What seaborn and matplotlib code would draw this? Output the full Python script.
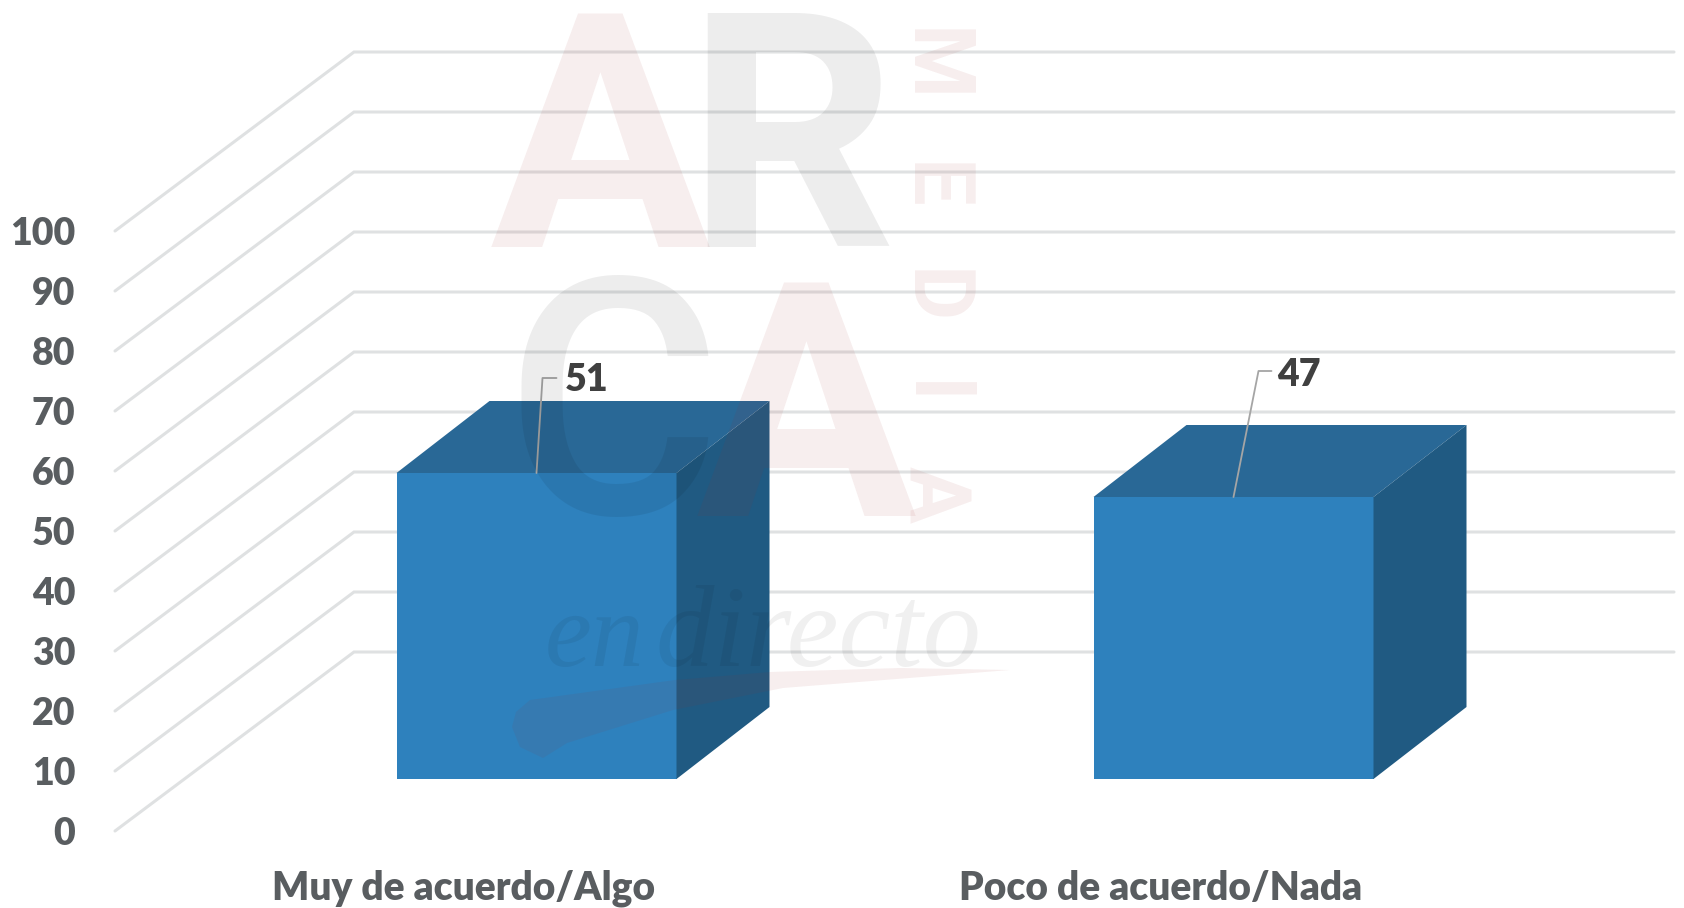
#!/usr/bin/env python3

import pandas as pd
import seaborn as sns
from matplotlib import pyplot as plt
from matplotlib.patches import Polygon

categories = ["Muy de acuerdo/Algo", "Poco de acuerdo/Nada"]
values = [51, 47]
y_ticks = [0, 10, 20, 30, 40, 50, 60, 70, 80, 90, 100]

W, H = 1684, 908
BAR_CENTER = 536.5    # pixel x of the first bar
BAR_STEP = 697        # pixels between the two bars
BASE_Y = 779          # pixel y of value 0 on the bar front
UNIT = 6.0            # pixels per value unit

FRONT = "#2e81bd"
TOP = "#296896"
SIDE = "#205a82"
GRID = "#dfe1e2"
TEXT = "#595d60"
GREY_MARK = dict(color="#000000", alpha=0.07)
PINK_MARK = dict(color="#a02828", alpha=0.08)


def to_x(px):
    return (px - BAR_CENTER) / BAR_STEP


def to_y(py):
    return (BASE_Y - py) / UNIT


def fig_text(fig, px, py, s, **kwargs):
    fig.text(px / W, 1 - py / H, s, ha="center", va="baseline", **kwargs)


def draw_watermark(fig):
    big = dict(family="Roboto", weight="bold", fontsize=236)
    fig_text(fig, 600, 247, "A", **big, **PINK_MARK)
    fig_text(fig, 791, 247, "R", **big, **GREY_MARK)
    fig_text(fig, 612, 514, "C", family="Roboto", weight=500, fontsize=238, **GREY_MARK)
    fig_text(fig, 806, 516, "A", **big, **PINK_MARK)

    # the MEDIA column reads top to bottom
    for letter, py in zip("MEDIA", [28, 162, 269, 381, 466]):
        fig.text(932 / W, 1 - py / H, letter, rotation=-90, ha="left", va="center",
                 rotation_mode="anchor", family="Roboto", weight="bold", fontsize=61, **PINK_MARK)

    script = dict(family="Liberation Serif", style="italic", color="#000000", alpha=0.06)
    fig_text(fig, 595, 666, "en", fontsize=76, **script)
    fig_text(fig, 818, 666, "directo", fontsize=84, **script)

    swoosh = [(512, 727), (516, 712), (530, 700), (675, 680), (770, 672), (900, 668), (1010, 670),
              (783, 688), (673, 710), (567, 743), (543, 758), (520, 747)]
    fig.add_artist(Polygon([(x / W, 1 - y / H) for x, y in swoosh], closed=True, transform=fig.transFigure,
                           facecolor=PINK_MARK["color"], edgecolor="none", alpha=PINK_MARK["alpha"]))


def main():
    sns.set_style("white")
    fig = plt.figure(figsize=(W / 100, H / 100), dpi=100)
    ax = fig.add_axes([88 / W, 1 - 860 / H, (W - 88) / W, 860 / H])

    data = pd.DataFrame({"Respuesta": categories, "Valor": values})
    sns.barplot(data, x="Respuesta", y="Valor", color=FRONT, saturation=1, width=280 / BAR_STEP, ax=ax,
                zorder=3, linewidth=0)

    ax.set_xlim(to_x(88), to_x(W))
    ax.set_ylim(to_y(860), to_y(0))

    # floor/side wall and back wall lines
    wall_front, wall_back, wall_end = to_x(115), to_x(354), to_x(1674)
    front_drop, back_rise = to_y(831), to_y(652)
    for tick in y_ticks:
        ax.plot([wall_front, wall_back, wall_end], [tick + front_drop, tick + back_rise, tick + back_rise],
                color=GRID, lw=2.2, zorder=1, solid_joinstyle="miter")

    # fake 3d faces on each bar
    half = 140 / BAR_STEP
    dx, dy = 93 / BAR_STEP, 72 / UNIT
    for i, value in enumerate(values):
        ax.fill([i - half, i + half, i + half + dx, i - half + dx],
                [value, value, value + dy, value + dy], color=TOP, lw=0, zorder=3)
        ax.fill([i + half, i + half + dx, i + half + dx, i + half],
                [value, value + dy, dy, 0], color=SIDE, lw=0, zorder=3)

    # leader lines and labels
    leaders = [((0, 0), (6, 95), (20, 95)), ((0, 0), (25, 126), (38, 126))]
    label_gap = [31, 46]
    label_rise = [93, 122]
    for i, value in enumerate(values):
        xs = [i + p[0] / BAR_STEP for p in leaders[i]]
        ys = [value + p[1] / UNIT for p in leaders[i]]
        ax.plot(xs, ys, color="#a5a5a5", lw=1.3, zorder=4)
        ax.text(i + (label_gap[i] + 19) / BAR_STEP, value + label_rise[i] / UNIT, str(value),
                family="Lato", weight="heavy", fontsize=27, color="#404040", ha="center", va="center", zorder=5)

    ax.set_yticks([tick + to_y(831) for tick in y_ticks], [str(tick) for tick in y_ticks])
    ax.set_xticks([i - 0.105 for i in range(len(categories))], categories)
    ax.tick_params(axis="y", length=0, pad=9, labelcolor=TEXT)
    ax.tick_params(axis="x", length=0, pad=7, labelcolor=TEXT)
    for label in ax.get_yticklabels():
        label.set_fontfamily("Lato")
        label.set_fontweight("heavy")
        label.set_fontsize(27)
    for label in ax.get_xticklabels():
        label.set_fontfamily("Lato")
        label.set_fontweight("heavy")
        label.set_fontsize(28)
    ax.set_xlabel("")
    ax.set_ylabel("")
    sns.despine(ax=ax, left=True, bottom=True)

    draw_watermark(fig)

    plt.savefig("out.png", dpi=100)
    plt.close()


if __name__ == '__main__':
    main()
